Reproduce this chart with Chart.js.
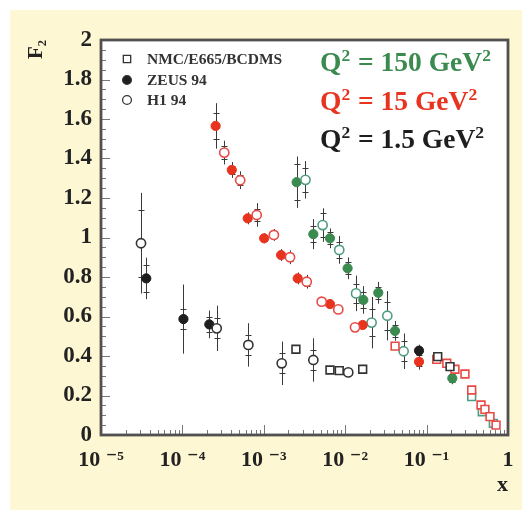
<!DOCTYPE html>
<html>
<head>
<meta charset="utf-8">
<script src="https://cdn.jsdelivr.net/npm/chart.js@4.4.1/dist/chart.umd.min.js"></script>
<style>
  html, body { margin: 0; padding: 0; background: #ffffff; }
  #wrap { width: 530px; height: 510px; }
</style>
</head>
<body>
<div id="wrap"><canvas id="c" width="530" height="510"></canvas></div>
<script>
// ---------- DATA ----------
// Axis ticks
const xTickValues = [1e-5, 1e-4, 1e-3, 1e-2, 1e-1, 1];
const xTickLabels = ['10 \u207B\u2075', '10 \u207B\u2074', '10 \u207B\u00B3', '10 \u207B\u00B2', '10 \u207B\u00B9', '1'];
const yTickValues = [0, 0.2, 0.4, 0.6, 0.8, 1, 1.2, 1.4, 1.6, 1.8, 2];

// Legend / annotation texts
const legendLabels = ['NMC/E665/BCDMS', 'ZEUS 94', 'H1 94'];
const q2Labels = [['Q', '2', ' = 150 GeV', '2'], ['Q', '2', ' = 15 GeV', '2'], ['Q', '2', ' = 1.5 GeV', '2']];

// Q^2 = 1.5 GeV^2
const q1p5_nmc_x  = [2.48e-3, 6.5e-3, 8.45e-3, 1.64e-2, 0.137, 0.194];
const q1p5_nmc_f2 = [0.434, 0.329, 0.326, 0.333, 0.397, 0.346];
const q1p5_zeus_x    = [3.6e-5, 1.03e-4, 2.14e-4, 8.07e-2];
const q1p5_zeus_f2   = [0.793, 0.587, 0.56, 0.427];
const q1p5_zeus_tot  = [0.105, 0.175, 0.07, 0.03];
const q1p5_zeus_stat = [0.067, 0.05, 0.04, 0.02];
const q1p5_h1_x    = [3.1e-5, 2.64e-4, 6.46e-4, 1.66e-3, 4.06e-3, 1.09e-2];
const q1p5_h1_f2   = [0.971, 0.54, 0.456, 0.363, 0.38, 0.317];
const q1p5_h1_tot  = [0.255, 0.115, 0.11, 0.11, 0.11, 0];
const q1p5_h1_stat = [0.17, 0.05, 0.05, 0.05, 0.05, 0];

// Q^2 = 15 GeV^2
const q15_nmc_x  = [0.041, 0.133, 0.177, 0.223, 0.296, 0.358, 0.466, 0.521, 0.601, 0.713];
const q15_nmc_f2 = [0.45, 0.383, 0.363, 0.333, 0.309, 0.228, 0.152, 0.13, 0.093, 0.05];
const q15_zeus_x    = [2.56e-4, 4.04e-4, 6.34e-4, 1.01e-3, 1.63e-3, 2.61e-3, 6.5e-3, 1.64e-2, 8.07e-2];
const q15_zeus_f2   = [1.565, 1.342, 1.097, 0.996, 0.911, 0.793, 0.663, 0.557, 0.371];
const q15_zeus_tot  = [0.115, 0.04, 0.03, 0.025, 0.03, 0.03, 0.02, 0.02, 0.04];
const q15_zeus_stat = [0.065, 0.02, 0.015, 0.012, 0.015, 0.015, 0.01, 0.01, 0.02];
const q15_h1_x    = [3.27e-4, 5.13e-4, 8.18e-4, 1.33e-3, 2.1e-3, 3.37e-3, 5.14e-3, 8.22e-3, 1.32e-2];
const q15_h1_f2   = [1.43, 1.29, 1.114, 1.013, 0.90, 0.776, 0.675, 0.636, 0.545];
const q15_h1_tot  = [0.06, 0.045, 0.06, 0.03, 0.035, 0.035, 0.02, 0.02, 0.02];
const q15_h1_stat = [0.035, 0.025, 0.03, 0.015, 0.02, 0.02, 0.01, 0.01, 0.01];

// Q^2 = 150 GeV^2
const q150_nmc_x  = [0.358, 0.483, 0.661];
const q150_nmc_f2 = [0.194, 0.118, 0.059];
const q150_zeus_x    = [2.53e-3, 4.06e-3, 6.5e-3, 1.07e-2, 1.67e-2, 2.55e-2, 4.09e-2, 0.207];
const q150_zeus_f2   = [1.28, 1.017, 0.996, 0.844, 0.684, 0.72, 0.527, 0.287];
const q150_zeus_tot  = [0.13, 0.076, 0.05, 0.055, 0.07, 0.055, 0.05, 0.03];
const q150_zeus_stat = [0.09, 0.04, 0.03, 0.03, 0.04, 0.03, 0.03, 0.02];
const q150_h1_x    = [3.25e-3, 5.28e-3, 8.45e-3, 1.36e-2, 2.11e-2, 3.29e-2, 5.22e-2];
const q150_h1_f2   = [1.292, 1.063, 0.937, 0.717, 0.569, 0.604, 0.424];
const q150_h1_tot  = [0.095, 0.085, 0.07, 0.09, 0.13, 0.125, 0.09];
const q150_h1_stat = [0.06, 0.06, 0.04, 0.05, 0.07, 0.07, 0.05];

// ---------- STYLE ----------
const SERIF = '"Liberation Serif", "DejaVu Serif", serif';
const COL_BLACK = '#1e1e1e';
const COL_RED = '#e8341f';
const COL_RED_OPEN = '#e84a46';
const COL_GREEN = '#3b8a4f';
const COL_GREEN_OPEN = '#4f9c82';
const COL_BAR = '#3a3a3a';

function pts(xs, ys) { return xs.map((x, i) => ({x: x, y: ys[i]})); }

function ds(label, xs, ys, tot, stat, style, color) {
  return {
    label: label,
    data: pts(xs, ys),
    errTot: tot || null,
    errStat: stat || null,
    pointStyle: style === 'square' ? 'rect' : 'circle',
    pointRadius: style === 'square' ? 5.5 : 4.6,
    borderWidth: style === 'filled' ? 1 : 1.6,
    borderColor: color,
    backgroundColor: style === 'filled' ? color : '#ffffff',
    showLine: false
  };
}

const datasets = [
  ds('NMC 1.5', q1p5_nmc_x, q1p5_nmc_f2, null, null, 'square', '#333333'),
  ds('H1 1.5', q1p5_h1_x, q1p5_h1_f2, q1p5_h1_tot, q1p5_h1_stat, 'open', '#333333'),
  ds('ZEUS 1.5', q1p5_zeus_x, q1p5_zeus_f2, q1p5_zeus_tot, q1p5_zeus_stat, 'filled', COL_BLACK),
  ds('NMC 15', q15_nmc_x, q15_nmc_f2, null, null, 'square', COL_RED_OPEN),
  ds('H1 15', q15_h1_x, q15_h1_f2, q15_h1_tot, q15_h1_stat, 'open', COL_RED_OPEN),
  ds('ZEUS 15', q15_zeus_x, q15_zeus_f2, q15_zeus_tot, q15_zeus_stat, 'filled', COL_RED),
  ds('NMC 150', q150_nmc_x, q150_nmc_f2, null, null, 'square', COL_GREEN_OPEN),
  ds('H1 150', q150_h1_x, q150_h1_f2, q150_h1_tot, q150_h1_stat, 'open', COL_GREEN_OPEN),
  ds('ZEUS 150', q150_zeus_x, q150_zeus_f2, q150_zeus_tot, q150_zeus_stat, 'filled', COL_GREEN)
];

// ---------- PLUGINS ----------
const backgroundPlugin = {
  id: 'bg',
  beforeDraw(chart) {
    const c = chart.ctx, a = chart.chartArea;
    c.save();
    c.fillStyle = '#ffffff';
    c.fillRect(0, 0, chart.width, chart.height);
    c.fillStyle = '#fdf7d3';
    c.fillRect(10, 10, 512, 500);
    c.fillStyle = '#ffffff';
    c.fillRect(a.left, a.top, a.right - a.left, a.bottom - a.top);
    c.restore();
  }
};

const errorBarPlugin = {
  id: 'errbars',
  beforeDatasetsDraw(chart) {
    const c = chart.ctx, xs = chart.scales.x, ys = chart.scales.y;
    c.save();
    c.strokeStyle = COL_BAR;
    c.lineWidth = 1;
    chart.data.datasets.forEach(d => {
      if (!d.errTot) return;
      d.data.forEach((p, i) => {
        const px = Math.round(xs.getPixelForValue(p.x)) + 0.5;
        const t = d.errTot[i], s = d.errStat ? d.errStat[i] : 0;
        if (t > 0) {
          c.beginPath();
          c.moveTo(px, ys.getPixelForValue(p.y - t));
          c.lineTo(px, ys.getPixelForValue(p.y + t));
          c.stroke();
        }
        if (s > 0) {
          [p.y - s, p.y + s].forEach(v => {
            const py = Math.round(ys.getPixelForValue(v)) + 0.5;
            c.beginPath();
            c.moveTo(px - 3, py);
            c.lineTo(px + 3, py);
            c.stroke();
          });
        }
      });
    });
    c.restore();
  }
};

const framePlugin = {
  id: 'frame',
  afterDatasetsDraw(chart) {
    const c = chart.ctx, a = chart.chartArea, xs = chart.scales.x, ys = chart.scales.y;
    c.save();
    c.strokeStyle = '#777777';
    c.lineWidth = 1;
    for (let k = 0; k <= 40; k++) {
      const v = k * 0.05;
      const py = Math.round(ys.getPixelForValue(v)) + 0.5;
      const len = (k % 4 === 0) ? 9 : 5;
      c.beginPath(); c.moveTo(a.left, py); c.lineTo(a.left + len, py); c.stroke();
    }
    for (let e = -5; e <= 0; e++) {
      for (let m = 1; m <= 9; m++) {
        const v = m * Math.pow(10, e);
        if (v > 1.0000001) break;
        const px = Math.round(xs.getPixelForValue(v)) + 0.5;
        const len = (m === 1) ? 10 : 5;
        c.beginPath(); c.moveTo(px, a.bottom); c.lineTo(px, a.bottom - len); c.stroke();
      }
    }
    c.strokeStyle = '#505050';
    c.lineWidth = 2.8;
    c.strokeRect(a.left, a.top, a.right - a.left, a.bottom - a.top);
    c.restore();
  }
};

function drawRich(c, parts, x, y, size, supSize, color) {
  let cx = x;
  parts.forEach((t, i) => {
    const sup = (i % 2 === 1);
    c.font = 'bold ' + (sup ? supSize : size) + 'px ' + SERIF;
    c.fillStyle = color;
    c.fillText(t, cx, sup ? y - size * 0.38 : y);
    cx += c.measureText(t).width + (sup ? 1 : 0);
  });
}

const annotationPlugin = {
  id: 'annot',
  afterDraw(chart) {
    const c = chart.ctx;
    c.save();
    const styles = ['rect', 'circle', 'circle'];
    const fills = ['#ffffff', '#1e1e1e', '#ffffff'];
    const rows = [59, 80, 100];
    legendLabels.forEach((lab, i) => {
      c.strokeStyle = '#333333';
      c.fillStyle = fills[i];
      c.lineWidth = 1.3;
      Chart.helpers.drawPoint(c, {pointStyle: styles[i], radius: i === 0 ? 5.2 : 4.4, rotation: 0, borderWidth: 1.3}, 127, rows[i]);
      c.font = 'bold 15.5px ' + SERIF;
      c.fillStyle = '#333333';
      c.textBaseline = 'middle';
      c.textAlign = 'left';
      c.fillText(lab, 147, rows[i] + 1);
    });
    c.textBaseline = 'alphabetic';
    const cols = [COL_GREEN, COL_RED, '#1e1e1e'];
    const bases = [71, 110, 148];
    q2Labels.forEach((parts, i) => drawRich(c, parts, 320, bases[i], 27.5, 17.5, cols[i]));
    c.restore();
  }
};

// ---------- CHART ----------
const tickFont = {family: SERIF, size: 23, weight: 'bold'};
new Chart(document.getElementById('c'), {
  type: 'scatter',
  data: {datasets: datasets},
  options: {
    responsive: false,
    animation: false,
    layout: {padding: {left: 10, right: 22, top: 40, bottom: 0}},
    plugins: {legend: {display: false}, tooltip: {enabled: false}},
    scales: {
      x: {
        type: 'logarithmic',
        min: 1e-5, max: 1,
        afterBuildTicks: s => { s.ticks = xTickValues.map(v => ({value: v})); },
        afterFit: s => { s.height = 75; },
        ticks: {
          callback: (v, i) => xTickLabels[i],
          font: {family: SERIF, size: 22, weight: 'bold'}, color: '#222222', padding: 12,
          maxRotation: 0, minRotation: 0, autoSkip: false
        },
        grid: {display: false, drawTicks: false},
        border: {display: false},
        title: {display: true, text: 'x', align: 'end', color: '#222222',
                font: {family: SERIF, size: 22, weight: 'bold'}, padding: {top: 0, bottom: 11}}
      },
      y: {
        min: 0, max: 2,
        afterBuildTicks: s => { s.ticks = yTickValues.map(v => ({value: v})); },
        afterFit: s => { s.width = 91; },
        ticks: {
          callback: v => String(Math.round(v * 10) / 10),
          font: tickFont, color: '#222222', padding: 9
        },
        grid: {display: false, drawTicks: false},
        border: {display: false},
        title: {display: true, text: 'F\u2082', align: 'end', color: '#222222',
                font: {family: SERIF, size: 21, weight: 'bold'}, padding: {top: 14, bottom: 0}}
      }
    }
  },
  plugins: [backgroundPlugin, errorBarPlugin, framePlugin, annotationPlugin]
});
</script>
</body>
</html>
